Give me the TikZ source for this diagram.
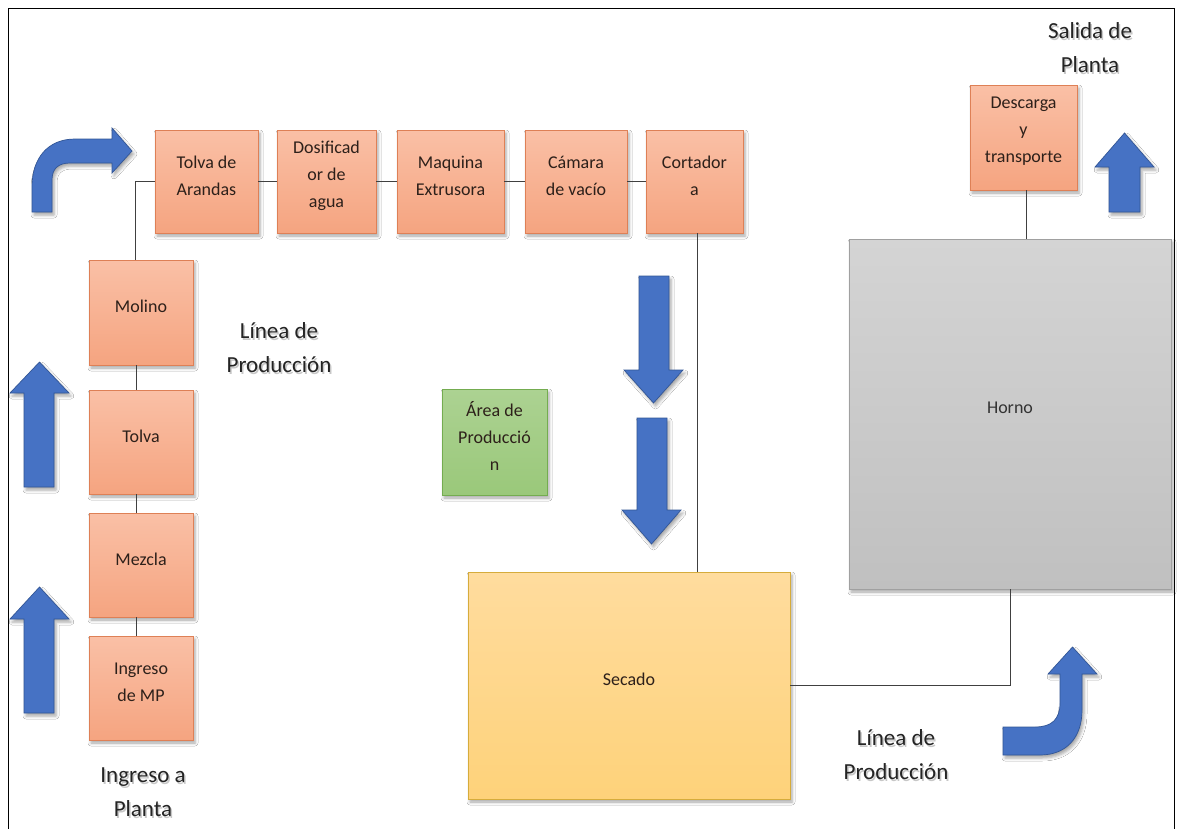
\documentclass[tikz,border=0pt]{standalone}
\usepackage{fontspec}
\setmainfont{Carlito}
\usetikzlibrary{shadows.blur}

\definecolor{orgTop}{RGB}{250,192,166}
\definecolor{orgBot}{RGB}{245,164,128}
\definecolor{orgLine}{RGB}{222,128,86}
\definecolor{grnTop}{RGB}{172,210,146}
\definecolor{grnBot}{RGB}{154,200,122}
\definecolor{grnLine}{RGB}{116,172,80}
\definecolor{ylwTop}{RGB}{255,220,158}
\definecolor{ylwBot}{RGB}{254,210,122}
\definecolor{ylwLine}{RGB}{214,172,60}
\definecolor{gryTop}{RGB}{212,212,212}
\definecolor{gryBot}{RGB}{192,192,192}
\definecolor{gryLine}{RGB}{160,160,160}
\definecolor{arrBlue}{RGB}{70,114,196}
\definecolor{arrEdge}{RGB}{50,86,150}
\definecolor{txtDark}{RGB}{45,32,26}
\definecolor{lblDark}{RGB}{36,36,36}

\begin{document}
\begin{tikzpicture}[x=1pt,y=-1pt,
  shadowed/.style={blur shadow={shadow xshift=2pt,shadow yshift=-3pt,shadow blur radius=3pt,shadow opacity=35}},
  stage/.style 2 args={rectangle,inner sep=0pt,minimum width=#1,minimum height=#2,line width=0.7pt,shadowed},
  obox/.style={draw=orgLine,top color=orgTop,bottom color=orgBot},
  gbox/.style={draw=grnLine,top color=grnTop,bottom color=grnBot},
  ybox/.style={draw=ylwLine,top color=ylwTop,bottom color=ylwBot},
  hbox/.style={draw=gryLine,top color=gryTop,bottom color=gryBot},
  btxt/.style={font=\fontsize{18}{27}\selectfont,text=txtDark,align=center,yshift=6pt},
  lbl/.style={font=\fontsize{23}{34}\selectfont,text=lblDark,align=center},
  lblshade/.style={lbl,text=black,text opacity=0.22,xshift=1.5pt,yshift=-2pt},
  link/.style={draw=black!75,line width=0.8pt},
  barrow/.style={fill=arrBlue,draw=arrEdge,line width=0.7pt,shadowed},
  frame/.style={draw=black,line width=0.9pt}]

\useasboundingbox (0,0) rectangle (1183,828);
\clip (0,0) rectangle (1183,828);
\fill[white] (0,0) rectangle (1183,828);
\draw[frame] (8,8) rectangle (1174,870);

% --- entry column ---
\node[stage={104pt}{105pt},obox,label={[btxt]center:Molino}] (molino) at (141,312.5) {};
\node[stage={104pt}{104pt},obox,label={[btxt]center:Tolva}] (tolva) at (141,442) {};
\node[stage={104pt}{104pt},obox,label={[btxt]center:Mezcla}] (mezcla) at (141,565) {};
\node[stage={104pt}{104pt},obox,label={[btxt]center:{Ingreso\\de MP}}] (ingreso) at (141,688) {};

% --- top production row ---
\node[stage={103pt}{103pt},obox,label={[btxt]center:{Tolva de\\Arandas}}] (arandas) at (206.5,181.5) {};
\node[stage={99pt}{103pt},obox,label={[btxt]center:{Dosificad\\or de\\agua}}] (dosif) at (326.5,181.5) {};
\node[stage={107pt}{103pt},obox,label={[btxt]center:{Maquina\\Extrusora}}] (extrus) at (450.5,181.5) {};
\node[stage={102pt}{103pt},obox,label={[btxt]center:{Cámara\\de vacío}}] (camara) at (576,181.5) {};
\node[stage={97pt}{103pt},obox,label={[btxt]center:{Cortador\\a}}] (cortad) at (694.5,181.5) {};

% --- exit ---
\node[stage={107pt}{105pt},obox,label={[btxt]center:{Descarga\\y\\transporte}}] (descarga) at (1023.5,137.5) {};

% --- large stations ---
\node[stage={105pt}{106pt},gbox,label={[btxt]center:{Área de\\Producció\\n}}] (area) at (494.5,442) {};
\node[stage={322pt}{227pt},ybox,label={[btxt]center:Secado}] (secado) at (629,685.5) {};
\node[stage={322pt}{350pt},hbox,label={[btxt,text=black!80]center:Horno}] (horno) at (1010,414) {};

% --- connectors ---
\draw[link] (ingreso.north) ++(-5pt,0) coordinate (c1) -- (c1 |- mezcla.south);
\draw[link] (mezcla.north) ++(-5pt,0) coordinate (c2) -- (c2 |- tolva.south);
\draw[link] (tolva.north) ++(-5pt,0) coordinate (c3) -- (c3 |- molino.south);
\draw[link] (molino.north) ++(-6pt,0) coordinate (c4) -- (c4 |- arandas.west) -- (arandas.west);
\draw[link] (arandas.east) -- (dosif.west);
\draw[link] (dosif.east) -- (extrus.west);
\draw[link] (extrus.east) -- (camara.west);
\draw[link] (camara.east) -- (cortad.west);
\draw[link] (cortad.south) ++(2.5pt,0) coordinate (c5) -- (c5 |- secado.north);
\draw[link] (secado.east) -| (horno.south);
\draw[link] (descarga.south) ++(2.5pt,0) coordinate (c6) -- (c6 |- horno.north);

% --- flow arrows ---
% upward, entry side
\path[barrow] (39.5,362) -- (69,393) -- (54,393) -- (54,487) -- (24,487) -- (24,393) -- (10,393) -- cycle;
\path[barrow] (39.5,587) -- (69,619) -- (54,619) -- (54,713) -- (24,713) -- (24,619) -- (10,619) -- cycle;
% bent arrow into the top row
\path[barrow] (32,212) -- (32,187) .. controls (32,158) and (48,139) .. (75,139)
  -- (112,139) -- (112,128) -- (132,151) -- (112,173) -- (112,163) -- (70,163)
  .. controls (58,163) and (52,169) .. (52,180) -- (52,212) -- cycle;
% downward, towards drying
\path[barrow] (639,276) -- (669,276) -- (669,370) -- (683,370) -- (653.5,403) -- (624,370) -- (639,370) -- cycle;
\path[barrow] (637,418) -- (667,418) -- (667,510) -- (681,510) -- (651.5,544) -- (622,510) -- (637,510) -- cycle;
% bent arrow towards the kiln
\path[barrow] (1003,727) -- (1035,727) .. controls (1052,727) and (1060,719) .. (1060,703)
  -- (1060,674) -- (1048,674) -- (1072.5,647) -- (1097,674) -- (1082,674) -- (1082,710)
  .. controls (1082,738) and (1066,755) .. (1040,755) -- (1003,755) -- cycle;
% upward, plant exit
\path[barrow] (1124.5,133) -- (1154,167) -- (1140,167) -- (1140,212) -- (1109,212) -- (1109,167) -- (1095,167) -- cycle;

% --- area labels, each with its soft text shadow ---
\node[lblshade] (lsalidaS) at (1090,48) {Salida de\\Planta};
\node[lbl] (lsalida) at (1090,48) {Salida de\\Planta};
\node[lblshade] (llinea1S) at (279,348) {Línea de\\Producción};
\node[lbl] (llinea1) at (279,348) {Línea de\\Producción};
\node[lblshade] (lingresoS) at (143,792) {Ingreso a\\Planta};
\node[lbl] (lingreso) at (143,792) {Ingreso a\\Planta};
\node[lblshade] (llinea2S) at (896,755) {Línea de\\Producción};
\node[lbl] (llinea2) at (896,755) {Línea de\\Producción};
\end{tikzpicture}
\end{document}
